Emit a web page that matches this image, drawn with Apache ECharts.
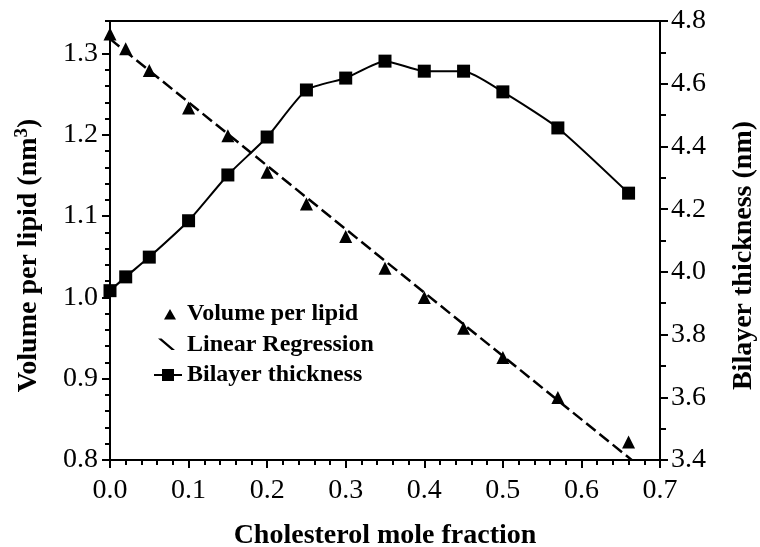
<!DOCTYPE html>
<html>
<head>
<meta charset="utf-8">
<script src="https://cdn.jsdelivr.net/npm/echarts@6/dist/echarts.min.js"></script>
<style>
  html, body { margin: 0; padding: 0; background: #fff; }
  #chart { width: 760px; height: 547px; }
</style>
</head>
<body>
<div id="chart"></div>
<script>
// cholesterol mole fraction for each sample
const molFraction = [0, 0.02, 0.05, 0.1, 0.15, 0.2, 0.25, 0.3, 0.35, 0.4, 0.45, 0.5, 0.57, 0.66]
// volume per lipid (nm^3), left axis
const volumePerLipid = [1.324, 1.306, 1.279, 1.233, 1.199, 1.154, 1.115, 1.075, 1.036, 1.0, 0.962, 0.926, 0.877, 0.822]
// bilayer thickness (nm), right axis
const bilayerThickness = [3.94, 3.984, 4.047, 4.163, 4.309, 4.43, 4.58, 4.618, 4.672, 4.64, 4.64, 4.574, 4.459, 4.251]
// linear regression end points
const regressionX = [0, 0.664]
const regressionY = [1.318, 0.8]

const font = 'Liberation Serif'

// legend icons: the two tiny corner pieces only fix the icon box to 28x13
const box = 'M0,0 L0.01,0 L0,0.01 Z M28,13 L27.99,13 L28,12.99 Z '
const iconTriangle = 'path://' + box + 'M10,12 L16,1.5 L22,12 Z'
const iconSlash = 'path://' + box + 'M4,0.5 L7.5,0.5 L21,12 L17.5,12 Z'
const iconSquareLine = 'path://' + box + 'M0,5.5 L28,5.5 L28,7.5 L0,7.5 Z M8,0.5 L20,0.5 L20,12.5 L8,12.5 Z'

const chartDom = document.getElementById('chart')
const echart = echarts.init(chartDom)

const zip = (xs, ys) => xs.map((x, i) => [x, ys[i]])

const option = {
  animation: false,
  backgroundColor: '#fff',
  grid: {
    left: 110,
    right: 100,
    top: 21,
    bottom: 87,
    outerBoundsMode: 'none',
    show: true,
    borderColor: '#000',
    borderWidth: 2
  },
  legend: {
    orient: 'vertical',
    left: 154,
    top: 302,
    padding: 0,
    itemWidth: 28,
    itemHeight: 13,
    itemGap: 6.5,
    textStyle: {
      fontFamily: font,
      fontWeight: 'bold',
      fontSize: 24,
      color: '#000'
    },
    data: [
      { name: 'Volume per lipid', icon: iconTriangle },
      { name: 'Linear Regression', icon: iconSlash },
      { name: 'Bilayer thickness', icon: iconSquareLine }
    ]
  },
  xAxis: {
    type: 'value',
    min: 0,
    max: 0.7,
    interval: 0.1,
    name: 'Cholesterol mole fraction',
    nameLocation: 'middle',
    nameGap: 62,
    nameTextStyle: { fontFamily: font, fontWeight: 'bold', fontSize: 28, color: '#000' },
    axisLine: { lineStyle: { color: '#000', width: 2 } },
    axisTick: { length: 8, lineStyle: { color: '#000', width: 2 } },
    minorTick: { show: true, splitNumber: 5, length: 5, lineStyle: { color: '#000', width: 2 } },
    splitLine: { show: false },
    axisLabel: {
      fontFamily: font,
      fontSize: 28,
      color: '#000',
      margin: 17,
      formatter: v => v.toFixed(1)
    }
  },
  yAxis: [
    {
      type: 'value',
      position: 'left',
      min: 0.8,
      max: 1.34,
      interval: 0.1,
      name: 'Volume per lipid (nm{sup|3})',
      nameLocation: 'middle',
      nameGap: 66,
      nameTextStyle: {
        fontFamily: font,
        fontWeight: 'bold',
        fontSize: 28,
        color: '#000',
        padding: [0, 30, 0, 0],
        rich: {
          sup: { fontFamily: font, fontWeight: 'bold', fontSize: 19, color: '#000', padding: [0, 0, 12, 0] }
        }
      },
      axisLine: { show: true, lineStyle: { color: '#000', width: 2 } },
      axisTick: { length: 8, lineStyle: { color: '#000', width: 2 } },
      splitLine: { show: false },
      axisLabel: {
        fontFamily: font,
        fontSize: 28,
        color: '#000',
        margin: 12,
        showMaxLabel: false,
        formatter: v => v.toFixed(1)
      }
    },
    {
      type: 'value',
      position: 'right',
      min: 3.4,
      max: 4.8,
      interval: 0.2,
      name: 'Bilayer thickness (nm)',
      nameLocation: 'middle',
      nameGap: 70,
      nameRotate: 90,
      nameTextStyle: {
        fontFamily: font,
        fontWeight: 'bold',
        fontSize: 28,
        color: '#000',
        padding: [0, 30, 0, 0]
      },
      axisLine: { show: true, lineStyle: { color: '#000', width: 2 } },
      axisTick: { length: 8, lineStyle: { color: '#000', width: 2 } },
      minorTick: { show: true, splitNumber: 2, length: 6, lineStyle: { color: '#000', width: 2 } },
      splitLine: { show: false },
      axisLabel: {
        fontFamily: font,
        fontSize: 28,
        color: '#000',
        margin: 11,
        formatter: v => v.toFixed(1)
      }
    },
    {
      // minor ticks of the left axis
      type: 'value',
      position: 'left',
      min: 0.8,
      max: 1.34,
      interval: 0.02,
      axisLine: { show: false },
      axisTick: { length: 5, lineStyle: { color: '#000', width: 2 } },
      axisLabel: { show: false },
      splitLine: { show: false }
    }
  ],
  series: [
    {
      name: 'Linear Regression',
      type: 'line',
      yAxisIndex: 0,
      data: zip(regressionX, regressionY),
      symbol: 'none',
      lineStyle: { color: '#000', width: 2.5, type: [12, 5] },
      itemStyle: { color: '#000' },
      z: 3
    },
    {
      name: 'Volume per lipid',
      type: 'scatter',
      yAxisIndex: 0,
      data: zip(molFraction, volumePerLipid),
      symbol: 'triangle',
      symbolSize: 13,
      itemStyle: { color: '#000', opacity: 1 },
      z: 4
    },
    {
      name: 'Bilayer thickness',
      type: 'line',
      yAxisIndex: 1,
      data: zip(molFraction, bilayerThickness),
      smooth: 0.2,
      symbol: 'rect',
      symbolSize: 13,
      lineStyle: { color: '#000', width: 2 },
      itemStyle: { color: '#000' },
      z: 4
    }
  ]
}

echart.setOption(option)
window.addEventListener('resize', function () {
  echart.resize()
})
</script>
</body>
</html>
